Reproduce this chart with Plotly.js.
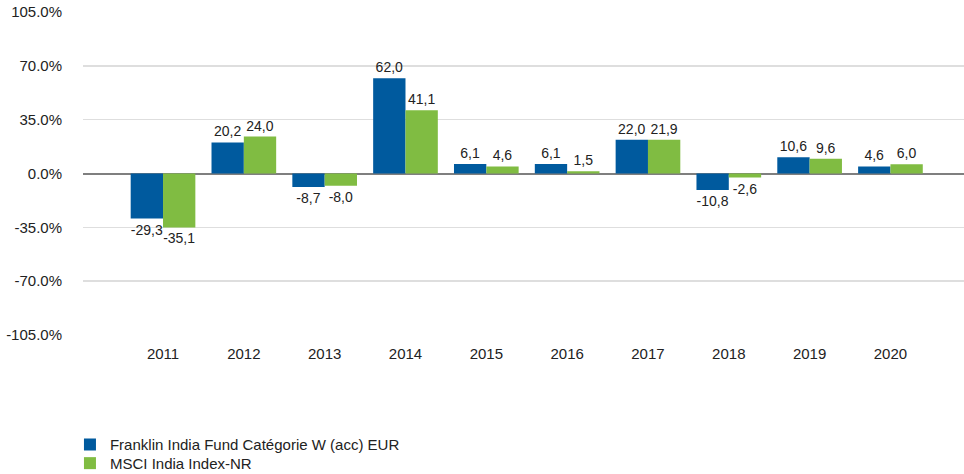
<!DOCTYPE html>
<html>
<head>
<meta charset="utf-8">
<script src="https://cdn.plot.ly/plotly-3.0.1.min.js"></script>
<style>html,body{margin:0;padding:0;background:#fff;}#chart{width:964px;height:474px;}</style>
</head>
<body>
<div id="chart"></div>
<script>
const years = ["2011","2012","2013","2014","2015","2016","2017","2018","2019","2020"];
const fundName = "Franklin India Fund Catégorie W (acc) EUR";
const indexName = "MSCI India Index-NR";
const fundValues = [-29.3, 20.2, -8.7, 62.0, 6.1, 6.1, 22.0, -10.8, 10.6, 4.6];
const indexValues = [-35.1, 24.0, -8.0, 41.1, 4.6, 1.5, 21.9, -2.6, 9.6, 6.0];
const yTicks = [-105, -70, -35, 0, 35, 70, 105];

const fmt = v => v.toFixed(1).replace('.', ',');
const textFont = {family: "Liberation Sans, Arial, sans-serif", size: 14, color: "#222"};

const traces = [
  {type: "bar", name: fundName, x: years, y: fundValues, text: fundValues.map(fmt),
   textposition: "outside", textfont: textFont, cliponaxis: false, hoverinfo: "none",
   marker: {color: "#005a9e"}, legend: "legend"},
  {type: "bar", name: indexName, x: years, y: indexValues, text: indexValues.map(fmt),
   textposition: "outside", textfont: textFont, cliponaxis: false, hoverinfo: "none",
   marker: {color: "#80bc42"}, legend: "legend2"}
];

const legendBase = {orientation: "v", x: -0.0148, xanchor: "left", yanchor: "middle",
  font: {size: 15, color: "#222"}, itemwidth: 30, bgcolor: "rgba(0,0,0,0)"};

const layout = {
  width: 964, height: 474,
  margin: {l: 83, r: 0, t: 11.5, b: 139, autoexpand: false},
  paper_bgcolor: "#fff", plot_bgcolor: "#fff",
  font: {family: "Liberation Sans, Arial, sans-serif", size: 15, color: "#222"},
  barmode: "group", bargap: 0.2, bargroupgap: 0,
  showlegend: true,
  legend: Object.assign({}, legendBase, {y: -0.340}),
  legend2: Object.assign({}, legendBase, {y: -0.3975}),
  xaxis: {type: "category", range: [-0.99, 9.91], showgrid: false, zeroline: false,
          showline: false, ticks: "", ticklabelstandoff: 8, tickfont: {size: 15, color: "#222"}},
  yaxis: {range: [-105, 105], tickvals: yTicks, ticktext: yTicks.map(v => v.toFixed(1) + "%"),
          showgrid: true, gridcolor: "#dedede", gridwidth: 1.5,
          zeroline: true, zerolinecolor: "#7f7f7f", zerolinewidth: 2,
          showline: false, ticks: "", ticklabelstandoff: 20, tickfont: {size: 15, color: "#222"}}
};

Plotly.newPlot("chart", traces, layout, {displayModeBar: false, staticPlot: true});
</script>
</body>
</html>
